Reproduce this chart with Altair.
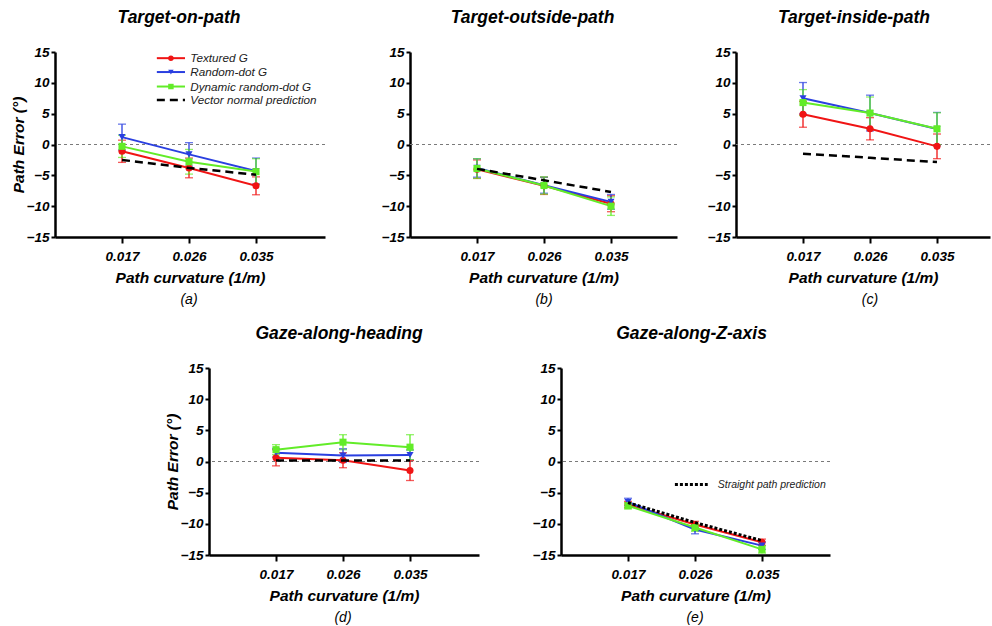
import altair as alt
import pandas as pd

# ---------------- data ----------------
curvature = ["0.017", "0.026", "0.035"]
series = ["Textured G", "Random-dot G", "Dynamic random-dot G"]
colors = ["#f01414", "#2a3fe0", "#62ec28"]
shapes = ["circle", "triangle-down", "square"]
vector_label = "Vector normal prediction"
straight_label = "Straight path prediction"

# (a) Target-on-path
a_textured = [-1.1, -3.8, -6.7]
a_random = [1.2, -1.6, -4.3]
a_dynamic = [-0.3, -2.8, -4.4]
a_textured_err = [1.8, 1.6, 1.45]
a_random_err = [2.1, 1.9, 2.1]
a_dynamic_err = [1.8, 2.0, 2.1]
a_prediction = [-2.5, -3.8, -4.9]

# (b) Target-outside-path
b_textured = [-4.0, -6.7, -9.6]
b_random = [-3.8, -6.6, -9.3]
b_dynamic = [-3.9, -6.65, -10.0]
b_textured_err = [1.5, 1.4, 1.3]
b_random_err = [1.5, 1.3, 1.2]
b_dynamic_err = [1.6, 1.4, 1.5]
b_prediction = [-3.95, -5.8, -7.7]

# (c) Target-inside-path
c_textured = [4.9, 2.55, -0.3]
c_random = [7.5, 5.1, 2.5]
c_dynamic = [6.8, 5.1, 2.55]
c_textured_err = [2.1, 1.8, 2.0]
c_random_err = [2.55, 2.9, 2.7]
c_dynamic_err = [2.1, 2.6, 2.6]
c_prediction = [-1.5, -2.15, -2.85]

# (d) Gaze-along-heading
d_textured = [0.6, 0.2, -1.45]
d_random = [1.4, 0.95, 1.05]
d_dynamic = [1.9, 3.1, 2.3]
d_textured_err = [1.3, 1.2, 1.6]
d_random_err = [0.7, 1.1, 0.8]
d_dynamic_err = [0.8, 1.2, 2.0]
d_prediction = [0.15, 0.15, 0.15]

# (e) Gaze-along-Z-axis
e_textured = [-6.9, -10.1, -12.95]
e_random = [-6.5, -10.9, -13.5]
e_dynamic = [-7.1, -10.6, -14.1]
e_textured_err = [0.5, 0.5, 0.5]
e_random_err = [0.6, 0.7, 0.6]
e_dynamic_err = [0.5, 0.6, 0.6]
e_prediction = [-6.6, -9.8, -12.7]

y_ticks = [-15, -10, -5, 0, 5, 10, 15]

# ---------------- styling / layout ----------------
FONT = "Liberation Sans"
STEP = 67  # px per curvature category
all_names = series + [vector_label, straight_label]
all_colors = colors + ["black", "black"]
label_expr = "[" + ",".join("'%s'" % c for c in curvature) + "][datum.value - 1]"


def series_frame(means, errs):
    rows = []
    for s, m, e in zip(series, means, errs):
        for i, (v, d) in enumerate(zip(m, e)):
            rows.append(dict(series=s, xi=i + 1, mean=v, lo=v - d, hi=v + d))
    return pd.DataFrame(rows)


def make_panel(title, title_dx, letter, means, errs, pred, pred_dash, pred_width, width, height,
               show_ytitle, legend=None, note=None):
    xscale = alt.Scale(domain=[0, width / STEP], nice=False, zero=False)
    yscale = alt.Scale(domain=[-15, 15], nice=False)
    xaxis = alt.Axis(values=[1, 2, 3], labelExpr=label_expr, title="Path curvature (1/m)")
    if show_ytitle:
        yaxis = alt.Axis(values=y_ticks, title="Path Error (°)")
    else:
        yaxis = alt.Axis(values=y_ticks, title=None)

    def X(f):
        return alt.X(f, type="quantitative", scale=xscale, axis=xaxis)

    def Y(f):
        return alt.Y(f, type="quantitative", scale=yscale, axis=yaxis)

    color = alt.Color("series:N", scale=alt.Scale(domain=all_names, range=all_colors), legend=None)
    shape = alt.Shape("series:N", scale=alt.Scale(domain=series, range=shapes), legend=None)

    df = series_frame(means, errs)
    pdf = pd.DataFrame({"xi": [1, 2, 3], "pred": pred})

    zero = alt.Chart(pd.DataFrame({"zero": [0], "xi": [0]})).mark_rule(
        color="#7a7a7a", strokeDash=[3, 3], strokeWidth=1
    ).encode(y=Y("zero"))

    ebar = alt.Chart(df).mark_errorbar(ticks={"size": 8}, thickness=1.3).encode(
        x=X("xi"), y=Y("lo"), y2=alt.Y2("hi"), color=color
    )
    lines = alt.Chart(df).mark_line(strokeWidth=2).encode(x=X("xi"), y=Y("mean"), color=color)
    pts = alt.Chart(df).mark_point(filled=True, size=50, opacity=1).encode(
        x=X("xi"), y=Y("mean"), color=color, shape=shape
    )
    pline = alt.Chart(pdf).mark_line(color="black", strokeDash=pred_dash, strokeWidth=pred_width).encode(
        x=X("xi"), y=Y("pred")
    )
    letter_txt = alt.Chart(pd.DataFrame({"t": ["(%s)" % letter]})).mark_text(
        font=FONT, fontSize=14, fontStyle="italic", baseline="middle", color="black"
    ).encode(x=alt.value(2 * STEP), y=alt.value(height + 63), text="t:N")

    layers = [zero, ebar, lines, pts, pline]

    if legend is not None:
        ldf = pd.DataFrame({
            "series": series + [vector_label],
            "ly": legend["y"],
            "x0": [legend["x0"]] * 4,
            "x1": [legend["x1"]] * 4,
            "xm": [(legend["x0"] + legend["x1"]) / 2] * 4,
            "xt": [legend["xt"]] * 4,
        })
        sdf = ldf.iloc[:3]
        vdf = ldf.iloc[3:]
        layers += [
            alt.Chart(sdf).mark_rule(strokeWidth=2).encode(x=X("x0"), x2="x1", y=Y("ly"), color=color),
            alt.Chart(sdf).mark_point(filled=True, size=30, opacity=1).encode(
                x=X("xm"), y=Y("ly"), color=color, shape=shape),
            alt.Chart(vdf).mark_rule(strokeWidth=2.5, strokeDash=[8, 5], color="black").encode(
                x=X("x0"), x2="x1", y=Y("ly")),
            alt.Chart(ldf).mark_text(font=FONT, fontSize=11.7, fontStyle="italic", align="left",
                                     baseline="middle", color="#222").encode(
                x=X("xt"), y=Y("ly"), text="series:N"),
        ]
    if note is not None:
        ndf = pd.DataFrame({"series": [straight_label], "ly": [note["y"]], "x0": [note["x0"]],
                            "x1": [note["x1"]], "xt": [note["xt"]]})
        layers += [
            alt.Chart(ndf).mark_rule(strokeWidth=3, strokeDash=[3, 2], color="black").encode(
                x=X("x0"), x2="x1", y=Y("ly")),
            alt.Chart(ndf).mark_text(font=FONT, fontSize=10.5, fontStyle="italic", align="left",
                                     baseline="middle", color="#222").encode(
                x=X("xt"), y=Y("ly"), text="series:N"),
        ]
    layers.append(letter_txt)
    return alt.layer(*layers).properties(
        width=width, height=height, title=alt.TitleParams(title, dx=title_dx)
    )


def spacer(width, height):
    return alt.Chart(pd.DataFrame({"v": [0]})).mark_point(size=1, opacity=0).encode(
        x=alt.value(width / 2), y=alt.value(height / 2)
    ).properties(width=width, height=height)


pa = make_panel("Target-on-path", -11, "a", [a_textured, a_random, a_dynamic],
                [a_textured_err, a_random_err, a_dynamic_err], a_prediction, [8, 5], 2.5,
                270, 185, True,
                legend={"y": [14.0, 11.75, 9.4, 7.2], "x0": 1.52, "x1": 1.94, "xt": 2.02})
pb = make_panel("Target-outside-path", -11, "b", [b_textured, b_random, b_dynamic],
                [b_textured_err, b_random_err, b_dynamic_err], b_prediction, [8, 5], 2.5,
                267, 185, False)
pc = make_panel("Target-inside-path", -9, "c", [c_textured, c_random, c_dynamic],
                [c_textured_err, c_random_err, c_dynamic_err], c_prediction, [8, 5], 2.5,
                254, 185, False)
pd_ = make_panel("Gaze-along-heading", -5, "d", [d_textured, d_random, d_dynamic],
                 [d_textured_err, d_random_err, d_dynamic_err], d_prediction, [8, 5], 2.5,
                 270, 187, True)
pe = make_panel("Gaze-along-Z-axis", -4, "e", [e_textured, e_random, e_dynamic],
                [e_textured_err, e_random_err, e_dynamic_err], e_prediction, [3, 2], 3,
                269, 187, False,
                note={"y": -3.7, "x0": 1.70, "x1": 2.19, "xt": 2.34})

row1 = alt.hconcat(pa, spacer(85, 185), pb, spacer(59, 185), pc, spacing=0, bounds="flush")
row2 = alt.hconcat(spacer(154, 187), pd_, spacer(82, 187), pe, spacing=0, bounds="flush")

chart = alt.vconcat(row1, row2, spacing=17).properties(
    padding={"left": 11, "top": 8, "right": 0, "bottom": 0}
).configure_view(stroke=None).configure_axis(
    grid=False,
    labelFont=FONT, labelFontSize=13.5, labelFontWeight="bold", labelFontStyle="italic", labelColor="black",
    titleFont=FONT, titleFontSize=15.5, titleFontWeight="bold", titleFontStyle="italic", titleColor="black",
    domainColor="black", domainWidth=2.5, tickColor="black", tickWidth=2,
).configure_axisX(
    tickSize=6, labelPadding=6, titlePadding=8, labelAngle=0
).configure_axisY(
    tickSize=4, labelPadding=2, titlePadding=0
).configure_title(
    font=FONT, fontSize=17.5, fontWeight="bold", fontStyle="italic", color="black",
    anchor="middle", offset=19
)

chart.save("out.html", embed_options={"renderer": "svg", "actions": False})
